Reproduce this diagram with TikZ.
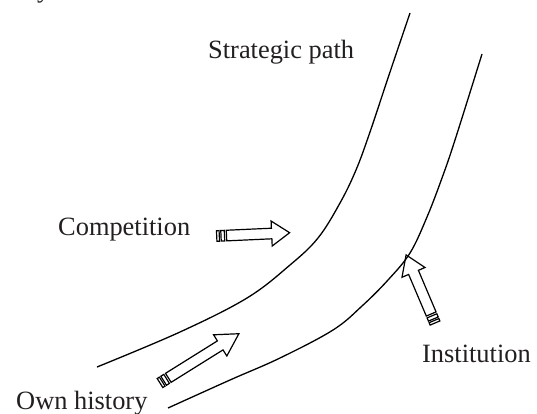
\documentclass[tikz,border=0pt]{standalone}
\usepackage{fontspec}
\setmainfont{Liberation Serif}
\definecolor{txt}{HTML}{231F20}
\newcommand\stripedarrow[4]{%
  \begin{scope}[shift={(#1)}, rotate=#2, line width=1.2pt, line join=miter]
    \draw (0,-5.3) rectangle (2.6,5.3);
    \draw (4.3,-5.3) rectangle (7.8,5.3);
    \draw (9.8,-5.3) -- ({#3-#4},-5.3) -- ({#3-#4},-12.5) -- (#3,0) -- ({#3-#4},12.5) -- ({#3-#4},5.3) -- (9.8,5.3) -- cycle;
  \end{scope}}
\begin{document}
\begin{tikzpicture}[x=1pt, y=-1pt,
  lbl/.style={anchor=base west, inner sep=0pt, text=txt, font=\fontsize{26.4}{30}\selectfont},
  road/.style={line width=1.3pt, line cap=butt}]
\useasboundingbox (0,0) rectangle (537,413);
% road edges
\draw[road] plot[smooth, tension=0.6] coordinates {(97,367) (180,332) (247,298) (290,265) (318,238) (340,203) (356,170) (370,132) (389,75) (410,13)};
\draw[road] plot[smooth, tension=0.6] coordinates {(168,408) (230,380) (280,358) (333,330) (362,306) (388,280) (410,253) (427,217) (442,178) (455,140) (482,54)};
% labels
\node[lbl] (top) at (37,-3) {y};
\node[lbl] (strat) at (208,58) {Strategic path};
\node[lbl] (comp) at (58,235) {Competition};
\node[lbl] (own) at (16,409) {Own history};
\node[lbl] (inst) at (422,362) {Institution};
% arrows
\coordinate (compTail) at (216.7,236);
\coordinate (ownTail) at (160,383);
\coordinate (instTail) at (435,323);
\stripedarrow{compTail}{2.6}{73}{18}
\stripedarrow{ownTail}{32}{93}{22}
\stripedarrow{instTail}{113}{74}{19}
\end{tikzpicture}
\end{document}
